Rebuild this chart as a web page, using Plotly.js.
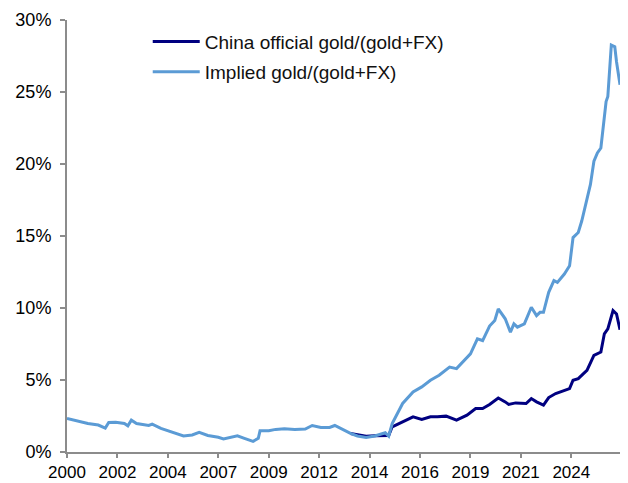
<!DOCTYPE html>
<html>
<head>
<meta charset="utf-8">
<script src="https://cdn.plot.ly/plotly-3.0.1.min.js"></script>
<style>
  html, body { margin: 0; padding: 0; background: #fff; }
  #chart { width: 628px; height: 483px; }
</style>
</head>
<body>
<div id="chart"></div>
<script>
// x = months since Jan 2000 (Excel-style category axis, every 29th label shown)
const tickMonths = [0, 29, 58, 87, 116, 145, 174, 203, 232, 261, 290];
const tickLabels = ['2000', '2002', '2004', '2007', '2009', '2012', '2014', '2016', '2019', '2021', '2024'];

const officialMonths = [163, 167, 172, 177, 182, 185, 187, 193, 199, 204, 209, 213, 218, 224, 230, 235,
  239, 243, 248, 252, 254, 258, 264, 267, 270, 274, 277, 281, 286, 289, 291, 294, 297, 299, 303, 307,
  309, 311, 314, 316, 318];
const officialShare = [1.29, 1.20, 1.10, 1.12, 1.15, 1.15, 1.75, 2.10, 2.44, 2.26, 2.44, 2.44, 2.49, 2.21,
  2.56, 3.02, 3.02, 3.30, 3.75, 3.48, 3.30, 3.41, 3.37, 3.71, 3.48, 3.25, 3.78, 4.06, 4.29, 4.40, 4.98,
  5.10, 5.44, 5.67, 6.71, 6.94, 8.21, 8.55, 9.82, 9.59, 8.49];

const impliedMonths = [0, 5, 12, 18, 22, 24, 28, 33, 35, 37, 40, 47, 49, 54, 60, 67, 72, 76, 81, 87, 90,
  94, 98, 102, 107, 110, 111, 116, 120, 125, 131, 137, 141, 146, 151, 154, 158, 163, 167, 172, 177, 181,
  183, 185, 187, 193, 199, 204, 209, 214, 220, 224, 230, 232, 236, 239, 243, 246, 248, 252, 255, 257,
  259, 263, 267, 270, 272, 274, 276, 277, 280, 282, 286, 289, 291, 294, 296, 298, 299, 301, 303, 305,
  307, 310, 311, 313, 315, 316, 318];
const impliedShare = [2.33, 2.17, 1.98, 1.87, 1.66, 2.05, 2.07, 1.98, 1.82, 2.21, 1.98, 1.84, 1.94, 1.64,
  1.41, 1.11, 1.18, 1.36, 1.15, 1.02, 0.90, 1.01, 1.13, 0.95, 0.74, 0.95, 1.47, 1.47, 1.57, 1.61, 1.57,
  1.59, 1.84, 1.70, 1.70, 1.84, 1.57, 1.29, 1.11, 1.00, 1.11, 1.29, 1.34, 1.10, 1.98, 3.37, 4.17, 4.52,
  4.98, 5.33, 5.90, 5.79, 6.59, 6.82, 7.86, 7.74, 8.75, 9.13, 9.94, 9.25, 8.32, 8.90, 8.67, 8.90, 10.05,
  9.47, 9.70, 9.70, 10.63, 11.09, 11.90, 11.78, 12.36, 12.93, 14.89, 15.24, 16.04, 17.08, 17.43, 18.58,
  20.19, 20.77, 21.11, 24.34, 24.69, 28.26, 28.15, 27.10, 25.50];

const yTickFont = {family: 'Liberation Sans, Arial, sans-serif', size: 18, color: '#000'};
const xTickFont = {family: 'Liberation Sans, Arial, sans-serif', size: 17, color: '#000'};
const legendFont = {family: 'Liberation Sans, Arial, sans-serif', size: 19, color: '#111'};

const data = [{
    x: officialMonths,
    y: officialShare,
    name: 'China official gold/(gold+FX)',
    mode: 'lines',
    line: {width: 3, color: '#000080'},
    legend: 'legend'
  }, {
    x: impliedMonths,
    y: impliedShare,
    name: 'Implied gold/(gold+FX)',
    mode: 'lines',
    line: {width: 3, color: '#5B9BD5'},
    legend: 'legend2'
  }
];

const legendBase = {
  font: legendFont,
  bgcolor: 'rgba(0,0,0,0)',
  borderwidth: 0,
  xanchor: 'left',
  yanchor: 'middle',
  itemwidth: 47
};

const layout = {
  xaxis: {
    range: [0, 318],
    tickmode: 'array',
    tickvals: tickMonths,
    ticktext: tickLabels,
    showgrid: false,
    zeroline: false,
    showline: true,
    linecolor: '#8c8c8c',
    linewidth: 2,
    ticks: 'outside',
    ticklen: 4,
    tickwidth: 2,
    tickcolor: '#8c8c8c',
    tickfont: xTickFont
  },
  yaxis: {
    range: [0, 30],
    dtick: 5,
    ticksuffix: '%',
    showgrid: false,
    zeroline: false,
    showline: true,
    linecolor: '#8c8c8c',
    linewidth: 2,
    ticks: 'outside',
    ticklen: 5,
    tickwidth: 2,
    tickcolor: '#8c8c8c',
    ticklabelstandoff: 5,
    tickfont: yTickFont
  },
  legend: Object.assign({x: 0.146, y: 0.95}, legendBase),
  legend2: Object.assign({x: 0.146, y: 0.88}, legendBase),
  showlegend: true,
  autosize: false,
  width: 628,
  height: 483,
  paper_bgcolor: '#fff',
  plot_bgcolor: '#fff',
  margin: {l: 67, r: 8, t: 20, b: 31}
};

Plotly.newPlot('chart', data, layout, {displayModeBar: false, staticPlot: true});
</script>
</body>
</html>
